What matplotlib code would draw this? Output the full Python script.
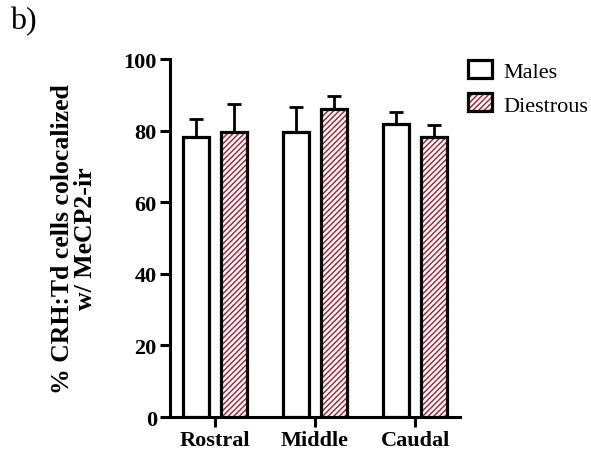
#!/usr/bin/env python3
# -*- coding: utf-8 -*-

import numpy as np
import matplotlib
matplotlib.use('Agg')
import matplotlib.pyplot as plt
from matplotlib.patches import Patch, Rectangle

# data
regions = ['Rostral', 'Middle', 'Caudal']
males_mean = [78.2, 79.6, 81.9]
males_err = [5.1, 7.0, 3.3]
diestrous_mean = [79.6, 86.1, 78.2]
diestrous_err = [7.7, 3.7, 3.3]

HATCH_RED = '#9a2f3c'

plt.rcParams['font.family'] = ['Liberation Serif', 'DejaVu Serif']
plt.rcParams['hatch.linewidth'] = 1.1


class HatchBoxHandler(object):
    # red hatch inside a black outline, like the bars
    def legend_artist(self, legend, orig_handle, fontsize, handlebox):
        x0, y0 = handlebox.xdescent, handlebox.ydescent
        w, h = handlebox.width, handlebox.height
        tr = handlebox.get_transform()
        p1 = Rectangle((x0, y0), w, h, facecolor='white', edgecolor=HATCH_RED,
                       hatch='//////', linewidth=0, transform=tr)
        p2 = Rectangle((x0, y0), w, h, facecolor='none', edgecolor='k',
                       linewidth=2.3, transform=tr)
        handlebox.add_artist(p1)
        handlebox.add_artist(p2)
        return p2


def plot():
    fig = plt.figure(figsize=(5.91, 4.52), dpi=100)
    ax = fig.add_axes([0.2877, 0.0752, 0.4907, 0.792])

    x = np.arange(len(regions))
    w = 0.265
    off = 0.19
    lw = 2.3

    # males: plain white bars
    ax.bar(x - off, males_mean, w, color='white', edgecolor='k',
           linewidth=lw, zorder=3)
    ax.errorbar(x - off, males_mean, yerr=[np.zeros(3), males_err],
                fmt='none', ecolor='k', elinewidth=2, capsize=5,
                capthick=2, zorder=2)

    # diestrous: red hatch with black outline
    ax.bar(x + off, diestrous_mean, w, color='white', edgecolor=HATCH_RED,
           hatch='//////', linewidth=0, zorder=3)
    ax.bar(x + off, diestrous_mean, w, color='none', edgecolor='k',
           linewidth=lw, zorder=4)
    ax.errorbar(x + off, diestrous_mean, yerr=[np.zeros(3), diestrous_err],
                fmt='none', ecolor='k', elinewidth=2, capsize=5,
                capthick=2, zorder=2)

    # axes
    ax.set_xlim(-0.45, 2.45)
    ax.set_ylim(0, 100)
    ax.set_xticks(x)
    ax.set_xticklabels(regions, fontsize=16, fontweight='bold')
    ax.set_yticks(np.arange(0, 101, 20))
    for lab in ax.get_yticklabels():
        lab.set_fontsize(16)
        lab.set_fontweight('bold')
    ax.tick_params(axis='both', width=2.2, length=7, direction='out', pad=2.5)
    for s in ['top', 'right']:
        ax.spines[s].set_visible(False)
    for s in ['left', 'bottom']:
        ax.spines[s].set_linewidth(2.2)

    ax.set_ylabel('% CRH:Td cells colocalized\nw/ MeCP2-ir', fontsize=18.5,
                  fontweight='bold', labelpad=19, linespacing=1.0)

    # legend
    h_m = Patch(facecolor='white', edgecolor='k', linewidth=2.3)
    h_d = Patch(facecolor='white', edgecolor='k')
    fig.legend([h_m, h_d], ['Males', 'Diestrous'],
               handler_map={h_d: HatchBoxHandler()},
               loc='upper left', bbox_to_anchor=(0.792, 0.864), frameon=False,
               fontsize=16, handlelength=1.08, handleheight=0.81,
               handletextpad=0.5, labelspacing=0.6, borderpad=0,
               borderaxespad=0)

    fig.text(0.017, 0.985, 'b)', fontsize=23, va='top', ha='left')

    fig.savefig('out.png', dpi=100)


def main():
    plot()


if __name__ == '__main__':
    main()
